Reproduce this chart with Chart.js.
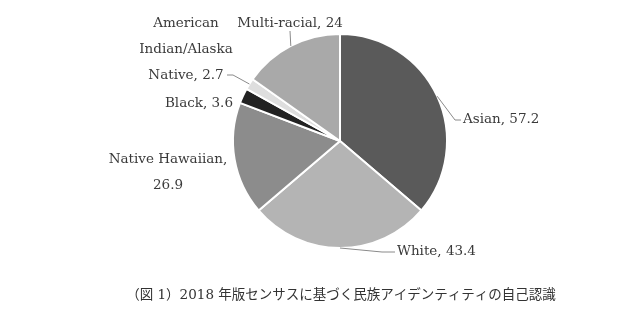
<!DOCTYPE html>
<html><head><meta charset="utf-8">
<script src="https://cdn.jsdelivr.net/npm/chart.js@4"></script>
<style>html,body{margin:0;padding:0;background:#fff}</style>
</head><body>
<canvas id="c" width="642" height="311"></canvas>
<script>
const categories = ['Asian', 'White', 'Native Hawaiian', 'Black', 'American Indian/Alaska Native', 'Multi-racial'];
const values = [57.2, 43.4, 26.9, 3.6, 2.7, 24];
const labelLines = [
  ['Asian, 57.2'],
  ['White, 43.4'],
  ['Native Hawaiian,', '26.9'],
  ['Black, 3.6'],
  ['American', 'Indian/Alaska', 'Native, 2.7'],
  ['Multi-racial, 24']
];
const caption = '（図 1）2018 年版センサスに基づく民族アイデンティティの自己認識';

const colors = ['#5a5a5a', '#b4b4b4', '#8c8c8c', '#222222', '#dedede', '#a9a9a9'];
const labelFont = "13.5px 'DejaVu Serif', serif";

// text placement for each label: anchor x, line y's, alignment, optional leader via-points
const placement = [
  { x: 463, ys: [119], align: 'left', leader: [[455, 120], [461, 120]] },
  { x: 397, ys: [251], align: 'left', leader: [[382, 252], [395, 252]] },
  { x: 168, ys: [159, 185], align: 'center' },
  { x: 233, ys: [103], align: 'right' },
  { x: 186, ys: [23, 49, 75], align: 'center', leader: [[233, 75], [227, 75]] },
  { x: 290, ys: [23], align: 'center', leader: [[290, 31]] }
];

const labelPlugin = {
  id: 'labels',
  afterDraw(chart) {
    const ctx = chart.ctx;
    const meta = chart.getDatasetMeta(0);
    ctx.save();
    meta.data.forEach((arc, i) => {
      const p = placement[i];
      const mid = (arc.startAngle + arc.endAngle) / 2;
      if (p.leader) {
        ctx.strokeStyle = '#8a8a8a';
        ctx.lineWidth = 1;
        ctx.beginPath();
        ctx.moveTo(arc.x + Math.cos(mid) * arc.outerRadius, arc.y + Math.sin(mid) * arc.outerRadius);
        p.leader.forEach(pt => ctx.lineTo(pt[0], pt[1]));
        ctx.stroke();
      }
      ctx.fillStyle = '#3a3a3a';
      ctx.font = labelFont;
      ctx.textAlign = p.align;
      ctx.textBaseline = 'middle';
      labelLines[i].forEach((t, k) => ctx.fillText(t, p.x, p.ys[k]));
    });
    ctx.font = "13.5px 'DejaVu Serif', 'Noto Sans CJK JP', serif";
    ctx.fillStyle = '#333';
    ctx.textAlign = 'center';
    ctx.textBaseline = 'middle';
    ctx.fillText(caption, 341, 295);
    ctx.restore();
  }
};

new Chart(document.getElementById('c'), {
  type: 'pie',
  data: {
    labels: categories,
    datasets: [{
      data: values,
      backgroundColor: colors,
      borderColor: '#ffffff',
      borderWidth: 2
    }]
  },
  options: {
    responsive: false,
    animation: false,
    layout: { padding: { left: 232, right: 194, top: 33, bottom: 62 } },
    plugins: { legend: { display: false }, tooltip: { enabled: false } }
  },
  plugins: [labelPlugin]
});
</script>
</body></html>
